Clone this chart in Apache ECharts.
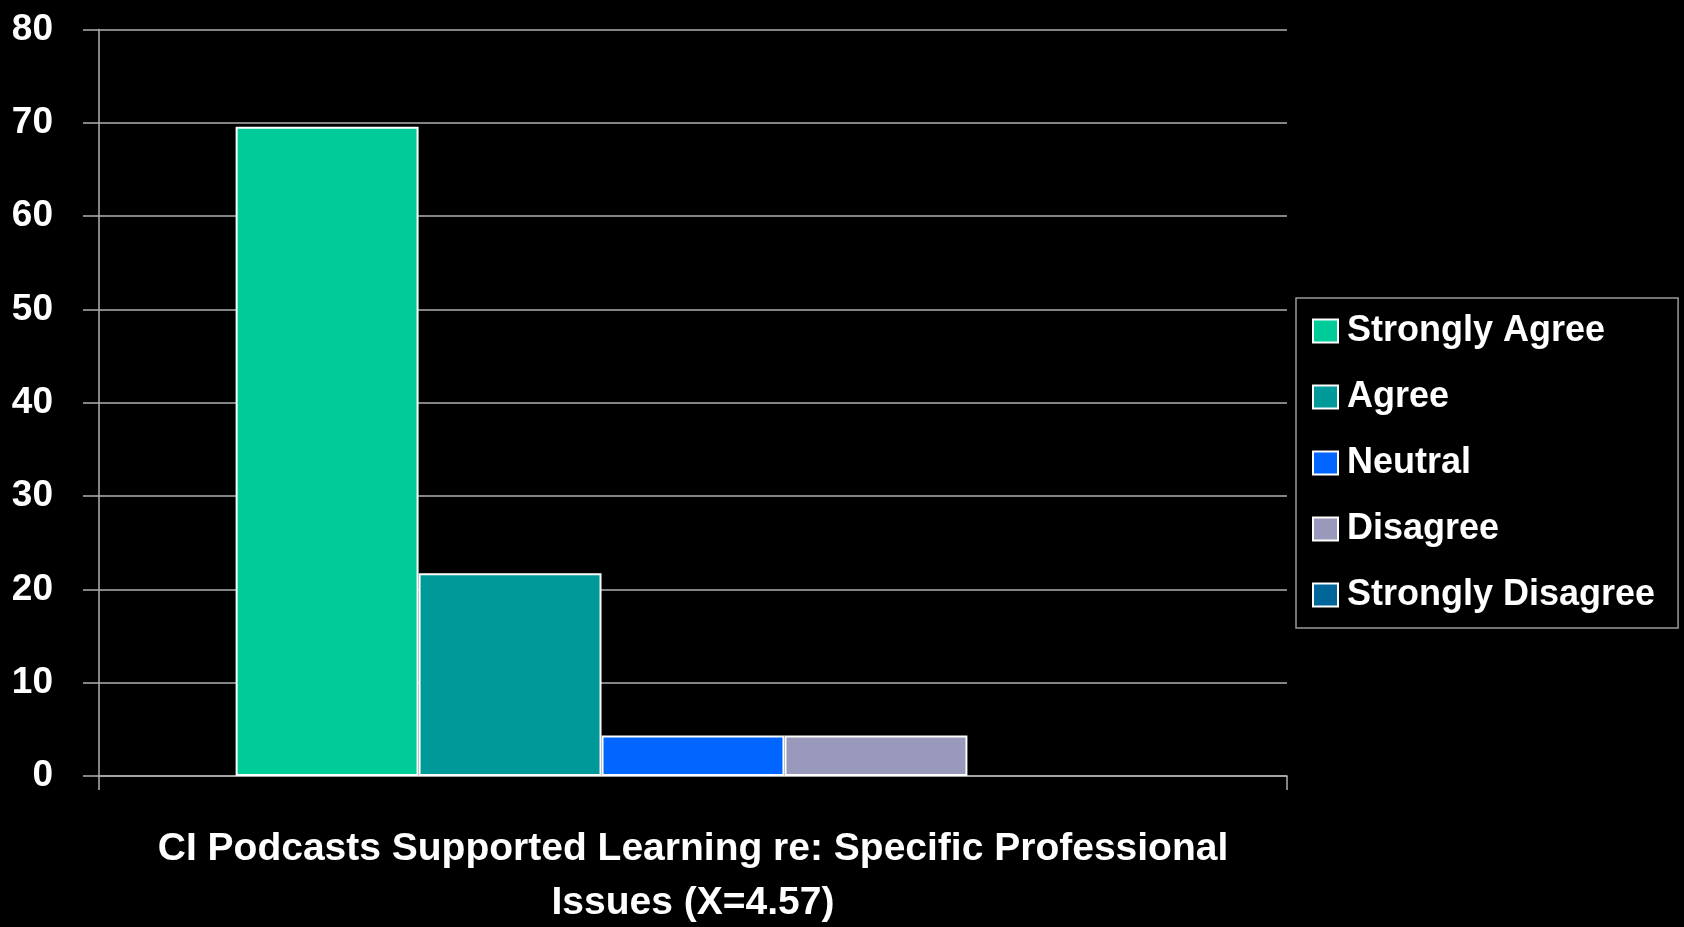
<!DOCTYPE html>
<html>
<head>
<meta charset="utf-8">
<style>
  html, body { margin: 0; padding: 0; background: #000; }
  #chart { width: 1684px; height: 927px; }
</style>
<script src="https://cdn.jsdelivr.net/npm/echarts@6/dist/echarts.min.js"></script>
</head>
<body>
<div id="chart"></div>
<script>
// Survey question (single category on the x axis)
const categories = ['CI Podcasts Supported Learning re: Specific Professional\nIssues (X=4.57)'];

// Response options and their share of respondents (%)
const responses = ['Strongly Agree', 'Agree', 'Neutral', 'Disagree', 'Strongly Disagree'];
const percents = [69.57, 21.74, 4.35, 4.35, 0];
const colors = ['#00CC99', '#009999', '#0066FF', '#9999BB', '#006699'];

// Value axis ticks
const yMin = 0, yMax = 80, yStep = 10;

const FONT = '"Liberation Sans", Arial, sans-serif';
const AXIS_GRAY = '#b0b0b0';

const chart = echarts.init(document.getElementById('chart'), null, { renderer: 'canvas' });

const series = responses.map((name, i) => ({
  name: name,
  type: 'bar',
  data: [percents[i]],
  barGap: '0%',
  barCategoryGap: '23%',
  itemStyle: {
    color: colors[i],
    borderColor: '#ffffff',
    borderWidth: percents[i] > 0 ? 2 : 0
  },
  animation: false
}));

chart.setOption({
  backgroundColor: '#000000',
  animation: false,
  textStyle: { fontFamily: FONT, color: '#ffffff' },
  grid: {
    left: 99, right: 397, top: 29.5, bottom: 151,
    containLabel: false,
    outerBoundsMode: 'none'
  },
  legend: {
    orient: 'vertical',
    left: 1296,
    top: 298,
    icon: 'rect',
    itemWidth: 25,
    itemHeight: 23,
    itemGap: 26,
    padding: [13, 23, 13, 16],
    borderColor: '#9a9a9a',
    borderWidth: 1.5,
    textStyle: {
      color: '#ffffff',
      fontFamily: FONT,
      fontWeight: 'bold',
      fontSize: 36,
      lineHeight: 40,
      padding: [0, 0, 0, 4]
    },
    data: responses.map((name, i) => ({
      name: name,
      itemStyle: { color: colors[i], borderColor: '#ffffff', borderWidth: 2 }
    }))
  },
  xAxis: {
    type: 'category',
    data: categories,
    name: categories[0],
    nameLocation: 'middle',
    nameGap: 46,
    nameTextStyle: {
      color: '#ffffff',
      fontFamily: FONT,
      fontWeight: 'bold',
      fontSize: 39,
      lineHeight: 54,
      align: 'center'
    },
    axisLine: { show: true, lineStyle: { color: AXIS_GRAY, width: 1.5 } },
    axisTick: { show: true, length: 14, lineStyle: { color: AXIS_GRAY, width: 1.5 } },
    axisLabel: { show: false },
    splitLine: { show: false }
  },
  yAxis: {
    type: 'value',
    min: yMin,
    max: yMax,
    interval: yStep,
    axisLine: { show: true, lineStyle: { color: AXIS_GRAY, width: 1.5 } },
    axisTick: { show: true, length: 16, lineStyle: { color: AXIS_GRAY, width: 1.5 } },
    axisLabel: {
      color: '#ffffff',
      fontFamily: FONT,
      fontWeight: 'bold',
      fontSize: 37,
      margin: 46
    },
    splitLine: { show: true, lineStyle: { color: AXIS_GRAY, width: 1.5 } }
  },
  series: series
});
</script>
</body>
</html>
